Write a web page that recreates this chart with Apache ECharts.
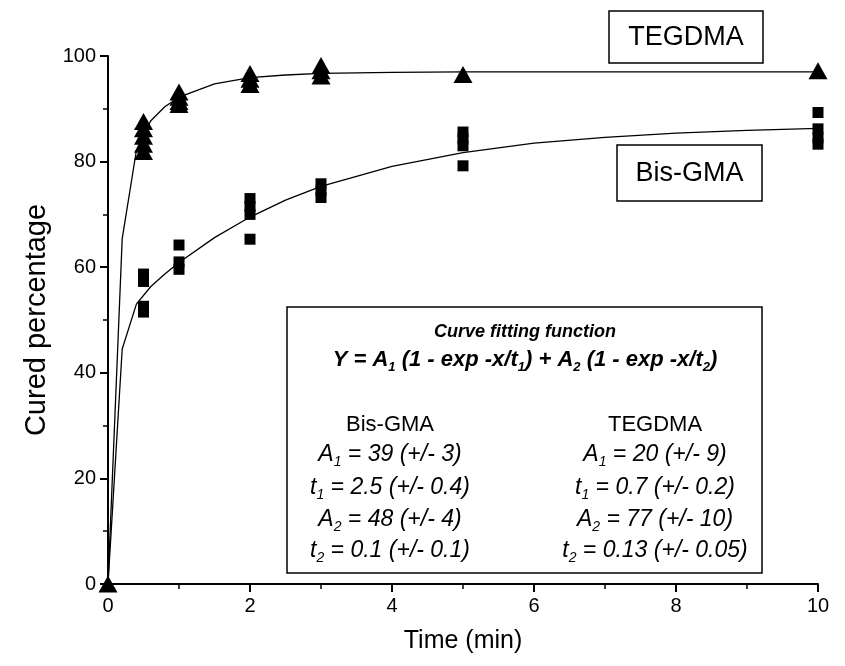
<!DOCTYPE html>
<html>
<head>
<meta charset="utf-8">
<script src="https://cdn.jsdelivr.net/npm/echarts@6/dist/echarts.min.js"></script>
<style>
  html, body { margin: 0; padding: 0; background: #fff; }
  #chart { width: 845px; height: 666px; }
</style>
</head>
<body>
<div id="chart"></div>
<script>
// measured points (time in min, cured %)
const timePoints = [0.5, 1, 2, 3, 5, 10]
const tegdmaMeasured = [
    [87.6, 86.2, 84.8, 83.3, 81.9],
    [93.2, 92.2, 91.4, 90.8],
    [96.7, 95.6, 94.6],
    [98.2, 97.2, 96.2],
    [96.5],
    [97.2]
]
const bisgmaMeasured = [
    [58.7, 57.3, 52.6, 51.5],
    [64.2, 61.0, 59.6],
    [73.0, 71.5, 70.0, 65.3],
    [75.8, 74.5, 73.2],
    [85.6, 84.3, 83.0, 79.2],
    [89.3, 86.2, 84.5, 83.3]
]
const originPoint = [0, 0]

// fitted curves
const fitTime = [0, 0.2, 0.4, 0.6, 0.8, 1, 1.5, 2, 2.5, 3, 4, 5, 6, 7, 8, 9, 10]
const bisgmaFit = [0, 44.5, 53.0, 56.3, 58.7, 60.9, 65.6, 69.5, 72.7, 75.3, 79.1, 81.7, 83.5, 84.6, 85.4, 85.9, 86.3]
const tegdmaFit = [0, 65.4, 82.1, 87.7, 90.4, 92.2, 94.7, 95.9, 96.4, 96.7, 96.9, 97.0, 97.0, 97.0, 97.0, 97.0, 97.0]

// fit parameter table
const paramNames = [['A', '1'], ['t', '1'], ['A', '2'], ['t', '2']]
const bisgmaParams = ['39 (+/- 3)', '2.5 (+/- 0.4)', '48 (+/- 4)', '0.1 (+/- 0.1)']
const tegdmaParams = ['20 (+/- 9)', '0.7 (+/- 0.2)', '77 (+/- 10)', '0.13 (+/- 0.05)']

const FONT = '"Liberation Sans", Arial, Helvetica, sans-serif'

const toPairs = (xs, groups) => {
    const out = []
    xs.forEach((x, i) => groups[i].forEach(y => out.push([x, y])))
    return out
}

const chart = echarts.init(document.getElementById('chart'))

const rowStyles = {
    n: { fontFamily: FONT, fontSize: 23, fontStyle: 'italic', fill: '#000', lineHeight: 28, verticalAlign: 'middle' },
    s: { fontFamily: FONT, fontSize: 14, fontStyle: 'italic', fill: '#000', lineHeight: 13, verticalAlign: 'bottom' }
}
const rowYs = [455, 488, 520, 551]

const paramTexts = []
paramNames.forEach((p, i) => {
    [[390, bisgmaParams[i]], [655, tegdmaParams[i]]].forEach(([cx, val]) => {
        paramTexts.push({
            type: 'text', x: cx, y: rowYs[i], z: 20,
            style: {
                text: '{n|' + p[0] + '}{s|' + p[1] + '}{n| = ' + val + '}',
                rich: rowStyles,
                align: 'center', verticalAlign: 'middle',
                textAlign: 'center', textVerticalAlign: 'middle'
            }
        })
    })
})

const boxText = (cx, cy, w, h, label) => ([
    {
        type: 'rect', z: 10,
        shape: { x: cx - w / 2, y: cy - h / 2, width: w, height: h },
        style: { fill: '#fff', stroke: '#000', lineWidth: 1.5 }
    },
    {
        type: 'text', x: cx, y: cy + 1, z: 11,
        style: {
            text: label, font: '27px ' + FONT, fill: '#000',
            align: 'center', verticalAlign: 'middle',
            textAlign: 'center', textVerticalAlign: 'middle'
        }
    }
])

const fStyles = {
    b: { fontFamily: FONT, fontSize: 22, fontWeight: 'bold', fontStyle: 'italic', fill: '#000', lineHeight: 28, verticalAlign: 'middle' },
    s: { fontFamily: FONT, fontSize: 13, fontWeight: 'bold', fontStyle: 'italic', fill: '#000', lineHeight: 13, verticalAlign: 'bottom' }
}

const option = {
    backgroundColor: '#fff',
    animation: false,
    grid: { left: 108, right: 27, top: 56, bottom: 82 },
    xAxis: {
        type: 'value', min: 0, max: 10, interval: 2,
        name: 'Time (min)', nameLocation: 'middle', nameGap: 45,
        nameTextStyle: { fontFamily: FONT, fontSize: 25, color: '#000' },
        axisLine: { onZero: false, lineStyle: { color: '#000', width: 2 } },
        axisTick: { length: 8, lineStyle: { color: '#000', width: 2 } },
        minorTick: { show: true, splitNumber: 2, length: 5, lineStyle: { color: '#000', width: 1.5 } },
        axisLabel: { fontFamily: FONT, fontSize: 20, color: '#000', margin: 12 },
        splitLine: { show: false }
    },
    yAxis: {
        type: 'value', min: 0, max: 100, interval: 20,
        name: 'Cured percentage', nameLocation: 'middle', nameGap: 56,
        nameTextStyle: { fontFamily: FONT, fontSize: 29, color: '#000' },
        axisLine: { show: true, onZero: false, lineStyle: { color: '#000', width: 2 } },
        axisTick: { show: true, length: 8, lineStyle: { color: '#000', width: 2 } },
        minorTick: { show: true, splitNumber: 2, length: 5, lineStyle: { color: '#000', width: 1.5 } },
        axisLabel: { fontFamily: FONT, fontSize: 20, color: '#000', margin: 12 },
        splitLine: { show: false }
    },
    graphic: [
        ...boxText(686, 37, 154, 52, 'TEGDMA'),
        ...boxText(689.5, 173, 145, 56, 'Bis-GMA'),
        {
            type: 'rect', z: 10,
            shape: { x: 287, y: 307, width: 475, height: 266 },
            style: { fill: '#fff', stroke: '#000', lineWidth: 1.5 }
        },
        {
            type: 'text', x: 525, y: 332, z: 20,
            style: {
                text: 'Curve fitting function',
                font: 'italic bold 18px ' + FONT, fill: '#000',
                align: 'center', verticalAlign: 'middle',
                textAlign: 'center', textVerticalAlign: 'middle'
            }
        },
        {
            type: 'text', x: 525, y: 360, z: 20,
            style: {
                text: '{b|Y = A}{s|1}{b| (1 - exp -x/t}{s|1}{b|) + A}{s|2}{b| (1 - exp -x/t}{s|2}{b|)}',
                rich: fStyles,
                align: 'center', verticalAlign: 'middle',
                textAlign: 'center', textVerticalAlign: 'middle'
            }
        },
        {
            type: 'text', x: 390, y: 425, z: 20,
            style: {
                text: 'Bis-GMA', font: '22px ' + FONT, fill: '#000',
                align: 'center', verticalAlign: 'middle',
                textAlign: 'center', textVerticalAlign: 'middle'
            }
        },
        {
            type: 'text', x: 655, y: 425, z: 20,
            style: {
                text: 'TEGDMA', font: '22px ' + FONT, fill: '#000',
                align: 'center', verticalAlign: 'middle',
                textAlign: 'center', textVerticalAlign: 'middle'
            }
        },
        ...paramTexts
    ],
    series: [
        {
            name: 'Bis-GMA fit', type: 'line', symbol: 'none', z: 2,
            data: fitTime.map((t, i) => [t, bisgmaFit[i]]),
            lineStyle: { color: '#000', width: 1.3 }
        },
        {
            name: 'TEGDMA fit', type: 'line', symbol: 'none', z: 2,
            data: fitTime.map((t, i) => [t, tegdmaFit[i]]),
            lineStyle: { color: '#000', width: 1.3 }
        },
        {
            name: 'Bis-GMA', type: 'scatter', symbol: 'rect', symbolSize: [11, 11], z: 3,
            itemStyle: { color: '#000', opacity: 1 },
            data: toPairs(timePoints, bisgmaMeasured)
        },
        {
            name: 'TEGDMA', type: 'scatter', symbol: 'triangle', symbolSize: [19, 17], z: 4,
            itemStyle: { color: '#000', opacity: 1 },
            data: [originPoint].concat(toPairs(timePoints, tegdmaMeasured))
        }
    ]
}

chart.setOption(option)
</script>
</body>
</html>
